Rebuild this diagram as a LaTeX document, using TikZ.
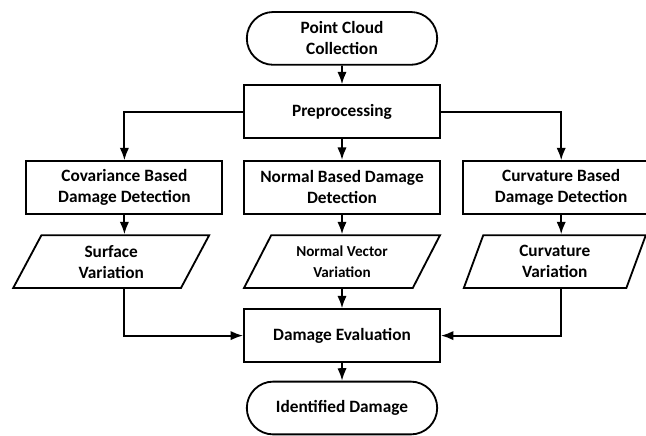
\documentclass[tikz,border=0pt]{standalone}
\usepackage{fontspec}
\setmainfont{Carlito}
\usetikzlibrary{shapes.geometric,shapes.misc,arrows.meta}

\begin{document}
\begin{tikzpicture}[
    >=Latex,
    font=\bfseries\fontsize{12.3}{15}\selectfont,
    box/.style={
        draw,
        line width=1.3pt,
        minimum width=4.9cm,
        minimum height=1.32cm,
        align=center,
        inner sep=2pt
    },
    term/.style={box, rounded rectangle},
    proc/.style={box, rectangle},
    data/.style={box, trapezium, trapezium left angle=54,
        trapezium right angle=126, trapezium stretches body},
    link/.style={->, line width=1.3pt}
]
\useasboundingbox (0,0) rectangle (16.15,-10.875);
\clip (0,0) rectangle (16.15,-10.875);

% colonne principale
\node[term] (start) at (8.55,-0.96)  {Point Cloud\\Collection};
\node[proc] (pre)   at (8.55,-2.79)  {Preprocessing};
\node[proc] (nor)   at (8.55,-4.68)  {Normal Based Damage\\Detection};
\node[data] (norout) at (8.55,-6.54) {\fontsize{10.8}{13.5}\selectfont Normal Vector\\\fontsize{10.8}{13.5}\selectfont Variation};
\node[proc] (eval)  at (8.55,-8.39)  {Damage Evaluation};
\node[term] (stop)  at (8.55,-10.2)  {Identified Damage};

% branches
\node[proc] (cov)    at (3.11,-4.69)  {Covariance Based\\Damage Detection};
\node[data] (covout) at (2.78,-6.54)  {Surface\\Variation};
\node[proc] (cur)    at (14.03,-4.69) {Curvature Based\\Damage Detection};
\node[data, trapezium left angle=63, trapezium right angle=117,
      minimum width=4.55cm] (curout) at (13.87,-6.54) {Curvature\\Variation};

% flèches
\draw[link] (start) -- (pre);
\draw[link] (pre) -- (nor);
\draw[link] (nor) -- (norout);
\draw[link] (norout) -- (eval);
\draw[link] (eval) -- (stop);
\draw[link] (pre.west) -| (cov.north);
\draw[link] (pre.east) -| (cur.north);
\draw[link] (cov.south) -- (cov.south |- covout.north);
\draw[link] (cur.south) -- (cur.south |- curout.north);
\draw[link] (cov.south |- covout.south) |- (eval.west);
\draw[link] (cur.south |- curout.south) |- (eval.east);

\end{tikzpicture}
\end{document}
